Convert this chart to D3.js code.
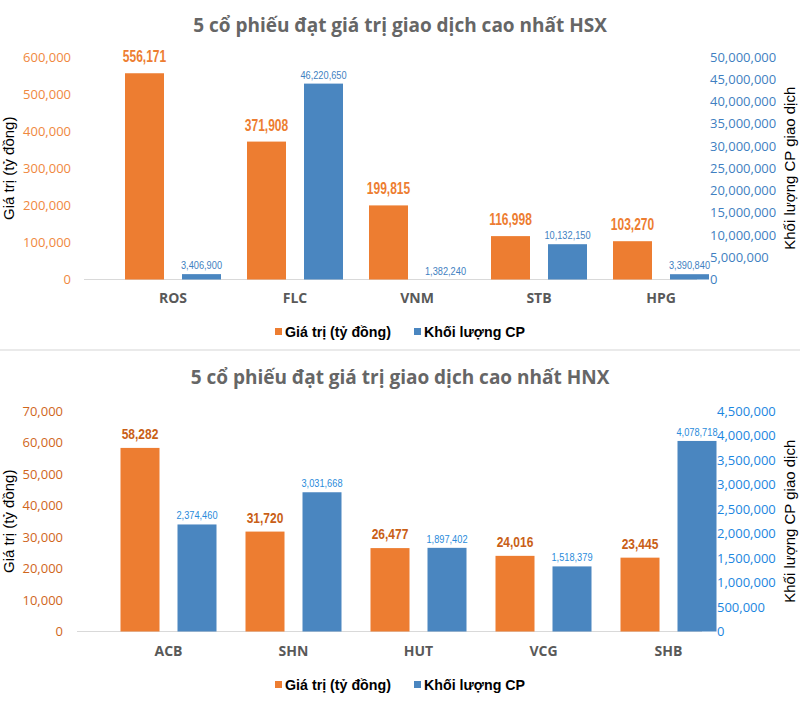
<!DOCTYPE html>
<html><head><meta charset="utf-8">
<script src="https://cdn.jsdelivr.net/npm/d3@7"></script>
<style>
body{margin:0;background:#fff;}
svg{display:block;}
</style></head>
<body>
<svg id="chart" width="800" height="725"></svg>
<script>
// ---------- DATA ----------
const hsxTitle = "5 cổ phiếu đạt giá trị giao dịch cao nhất HSX";
const hsxCategories = ["ROS", "FLC", "VNM", "STB", "HPG"];
const hsxValue = [556171, 371908, 199815, 116998, 103270];
const hsxVolume = [3406900, 46220650, 1382240, 10132150, 3390840];
const hsxValueTicks = [0, 100000, 200000, 300000, 400000, 500000, 600000];
const hsxVolumeTicks = [0, 5000000, 10000000, 15000000, 20000000, 25000000, 30000000, 35000000, 40000000, 45000000, 50000000];
const hsxVolumeFloor = 2200000; // secondary-axis bars in the picture start above zero

const hnxTitle = "5 cổ phiếu đạt giá trị giao dịch cao nhất HNX";
const hnxCategories = ["ACB", "SHN", "HUT", "VCG", "SHB"];
const hnxValue = [58282, 31720, 26477, 24016, 23445];
const hnxVolume = [2374460, 3031668, 1897402, 1518379, 4078718];
const hnxValueTicks = [0, 10000, 20000, 30000, 40000, 50000, 60000, 70000];
const hnxVolumeTicks = [0, 500000, 1000000, 1500000, 2000000, 2500000, 3000000, 3500000, 4000000, 4500000];
const hnxVolumeFloor = 190000;

const seriesNames = ["Giá trị (tỷ đồng)", "Khối lượng CP"];
const leftAxisTitle = "Giá trị (tỷ đồng)";
const rightAxisTitle = "Khối lượng CP giao dịch";

// ---------- STYLE ----------
const ORANGE = "#ED7D31";
const BLUE = "#4A86C0";
const fmt = d3.format(",");
const svg = d3.select("#chart");
const ARIAL = "'Liberation Sans', Arial, sans-serif";

function drawChart(cfg) {
  const g = svg.append("g");
  const x = d3.scaleBand().domain(cfg.categories).range(cfg.xRange);
  const yL = d3.scaleLinear().domain([0, d3.max(cfg.valueTicks)]).range([cfg.yBottom, cfg.yTop]);
  const yRAxis = d3.scaleLinear().domain([0, d3.max(cfg.volumeTicks)]).range([cfg.yBottom, cfg.yTop]);
  const yR = d3.scaleLinear().domain([cfg.volumeFloor, cfg.volumeFloor + d3.max(cfg.volumeTicks)])
               .range([cfg.yBottom, cfg.yTop]).clamp(true);

  // title
  g.append("text").attr("x", 400).attr("y", cfg.titleY).attr("text-anchor", "middle")
    .attr("font-family", "'Open Sans', sans-serif").attr("font-weight", "bold")
    .attr("font-size", 19).attr("fill", "#666666").text(cfg.title);

  // left axis
  const la = g.append("g").attr("transform", `translate(${cfg.leftLabelX},0)`)
    .call(d3.axisLeft(yL).tickValues(cfg.valueTicks).tickSize(0).tickPadding(0).tickFormat(fmt));
  la.select(".domain").remove();
  la.selectAll("text").attr("font-family", "'Open Sans', sans-serif").attr("font-size", 13)
    .attr("fill", cfg.leftTickColor);

  // right axis
  const ra = g.append("g").attr("transform", `translate(${cfg.rightLabelX},0)`)
    .call(d3.axisRight(yRAxis).tickValues(cfg.volumeTicks).tickSize(0).tickPadding(0).tickFormat(fmt));
  ra.select(".domain").remove();
  ra.selectAll("text").attr("font-family", "'Open Sans', sans-serif").attr("font-size", 13)
    .attr("fill", cfg.rightTickColor);

  // axis titles
  g.append("text").attr("transform", `translate(${cfg.leftTitleX},${(cfg.yTop + cfg.yBottom) / 2}) rotate(-90)`)
    .attr("text-anchor", "middle").attr("font-family", ARIAL)
    .attr("font-size", 15).attr("fill", "#000").text(leftAxisTitle);
  g.append("text").attr("transform", `translate(${cfg.rightTitleX},${(cfg.yTop + cfg.yBottom) / 2}) rotate(-90)`)
    .attr("text-anchor", "middle").attr("font-family", ARIAL)
    .attr("font-size", 15).attr("fill", "#000").text(rightAxisTitle);

  // baseline
  g.append("line").attr("x1", cfg.baseX[0]).attr("x2", cfg.baseX[1])
    .attr("y1", cfg.yBottom).attr("y2", cfg.yBottom).attr("stroke", "#D9D9D9").attr("stroke-width", 1);

  const barW = 39, half = 28.5;
  const cx = c => x(c) + x.bandwidth() / 2;

  // value bars
  g.selectAll(".bv").data(cfg.categories).join("rect")
    .attr("x", (c) => cx(c) - half - barW / 2)
    .attr("y", (c, i) => yL(cfg.values[i]))
    .attr("width", barW)
    .attr("height", (c, i) => cfg.yBottom - yL(cfg.values[i]))
    .attr("fill", ORANGE);
  // volume bars
  g.selectAll(".bq").data(cfg.categories).join("rect")
    .attr("x", (c) => cx(c) + half - barW / 2)
    .attr("y", (c, i) => yR(cfg.volumes[i]))
    .attr("width", barW)
    .attr("height", (c, i) => cfg.yBottom - yR(cfg.volumes[i]))
    .attr("fill", BLUE);

  // labels (condensed look via horizontal scale)
  g.selectAll(".lv").data(cfg.categories).join("text")
    .attr("transform", (c, i) => `translate(${cx(c) - half},${yL(cfg.values[i]) - cfg.valueLabelGap}) scale(${cfg.valueLabelScale},1)`)
    .attr("text-anchor", "middle")
    .attr("font-family", ARIAL)
    .attr("font-weight", "bold").attr("font-size", cfg.valueLabelSize).attr("fill", cfg.valueLabelColor)
    .text((c, i) => fmt(cfg.values[i]));
  g.selectAll(".lq").data(cfg.categories).join("text")
    .attr("transform", (c, i) => `translate(${cx(c) + half},${yR(cfg.volumes[i]) - 5}) scale(0.84,1)`)
    .attr("text-anchor", "middle")
    .attr("font-family", ARIAL)
    .attr("font-size", 11).attr("fill", cfg.volumeLabelColor)
    .text((c, i) => fmt(cfg.volumes[i]));

  // categories
  g.selectAll(".cat").data(cfg.categories).join("text")
    .attr("x", c => cx(c)).attr("y", cfg.catY).attr("text-anchor", "middle")
    .attr("font-family", "'Open Sans', sans-serif").attr("font-weight", "bold")
    .attr("font-size", 14).attr("fill", "#595959").text(c => c);

  // legend
  const lg = g.append("g").attr("transform", `translate(0,${cfg.legendY})`);
  const items = [{name: seriesNames[0], color: ORANGE, x: 275}, {name: seriesNames[1], color: BLUE, x: 414}];
  items.forEach(it => {
    lg.append("rect").attr("x", it.x).attr("y", -3).attr("width", 7).attr("height", 7).attr("fill", it.color);
    lg.append("text").attr("transform", `translate(${it.x + 10},6) scale(0.95,1)`)
      .attr("font-family", ARIAL).attr("font-size", 15).attr("font-weight", "bold")
      .attr("fill", "#000").text(it.name);
  });
}

drawChart({
  title: hsxTitle, categories: hsxCategories, values: hsxValue, volumes: hsxVolume,
  valueTicks: hsxValueTicks, volumeTicks: hsxVolumeTicks, volumeFloor: hsxVolumeFloor,
  xRange: [112, 722], yTop: 57, yBottom: 279.5, baseX: [84, 697],
  titleY: 32, catY: 303, legendY: 331,
  leftLabelX: 71, rightLabelX: 710, leftTitleX: 14, rightTitleX: 795,
  leftTickColor: "#F0883E", rightTickColor: "#3F7FC1",
  valueLabelColor: ORANGE, volumeLabelColor: "#3F7FC1", valueLabelGap: 11,
  valueLabelSize: 16, valueLabelScale: 0.75
});

svg.append("line").attr("x1", 0).attr("x2", 800).attr("y1", 350).attr("y2", 350)
  .attr("stroke", "#E3E3E3").attr("stroke-width", 1.5);

drawChart({
  title: hnxTitle, categories: hnxCategories, values: hnxValue, volumes: hnxVolume,
  valueTicks: hnxValueTicks, volumeTicks: hnxVolumeTicks, volumeFloor: hnxVolumeFloor,
  xRange: [106, 731], yTop: 411, yBottom: 631.5, baseX: [77, 702],
  titleY: 384, catY: 656, legendY: 684,
  leftLabelX: 63, rightLabelX: 717, leftTitleX: 14, rightTitleX: 795,
  leftTickColor: "#D0661C", rightTickColor: "#1C86E0",
  valueLabelColor: "#C95F17", volumeLabelColor: "#2A8BDB", valueLabelGap: 9,
  valueLabelSize: 15, valueLabelScale: 0.8
});
</script>
</body></html>
